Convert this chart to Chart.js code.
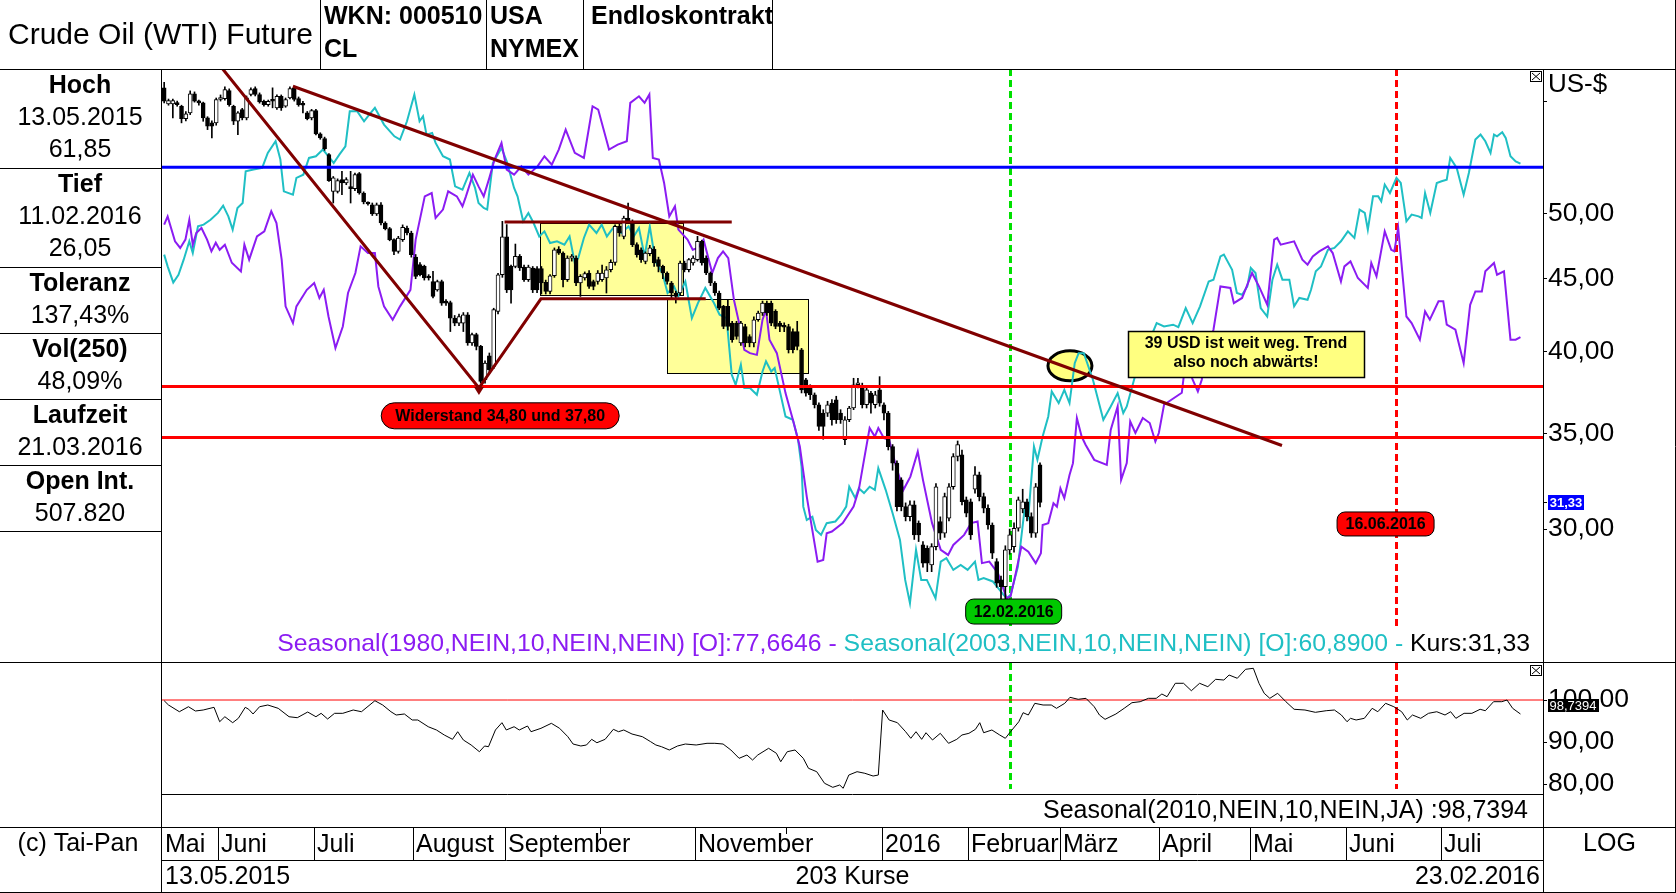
<!DOCTYPE html>
<html lang="de">
<head>
<meta charset="utf-8">
<title>Crude Oil (WTI) Future</title>
<script src="https://cdn.jsdelivr.net/npm/chart.js@4.4.1/dist/chart.umd.min.js"></script>
<style>
  html, body { margin: 0; padding: 0; background: #fff; }
  #wrap { width: 1676px; height: 893px; }
</style>
</head>
<body>
<div id="wrap"><canvas id="chart" width="1676" height="893"></canvas></div>
<script>
// Kerzen: Index 0 = 13.05.2015 ... Index 202 = 23.02.2016 (203 Kurse)
const candleOpen = [
  61.30, 59.73, 59.73, 59.83, 59.50, 58.32, 58.86, 60.71, 59.98, 59.83,
  58.39, 57.92, 57.92, 60.15, 60.24, 61.03, 59.50, 58.07, 59.18, 58.39,
  60.64, 61.23, 60.64, 59.98, 59.66, 60.05, 59.35, 60.47, 59.50, 60.31,
  61.30, 60.24, 59.66, 58.86, 58.39, 59.08, 56.89, 56.46, 55.02, 51.84,
  51.84, 52.83, 52.55, 52.13, 52.07, 53.35, 51.70, 50.87, 50.73, 49.98,
  50.73, 49.25, 48.80, 47.94, 47.04, 47.94, 48.85, 48.46, 46.60, 46.04,
  45.91, 45.17, 44.80, 44.20, 44.80, 43.38, 43.30, 42.22, 41.88, 41.88,
  42.45, 40.55, 41.10, 40.33, 38.21, 39.72, 39.04, 42.68, 45.29, 48.15,
  45.91, 45.91, 46.66, 45.86, 44.93, 45.79, 45.74, 45.74, 44.73, 44.08,
  45.22, 47.22, 46.91, 44.93, 46.53, 46.53, 44.69, 45.05, 45.42, 44.80,
  44.80, 44.93, 45.05, 45.66, 46.21, 48.98, 48.19, 49.65, 49.38, 47.55,
  47.16, 46.28, 46.86, 47.22, 46.41, 45.91, 45.42, 44.69, 43.97, 43.97,
  46.16, 45.66, 46.16, 46.41, 47.81, 46.53, 45.42, 44.69, 43.97, 43.03,
  43.03, 41.88, 41.88, 40.55, 41.65, 40.98, 40.55, 42.11, 42.57, 43.26,
  43.26, 42.68, 41.88, 41.65, 41.65, 41.31, 41.31, 40.11, 38.21, 37.79,
  37.29, 36.69, 36.20, 36.20, 36.79, 36.99, 36.20, 34.67, 35.81, 36.50,
  37.90, 37.79, 36.69, 37.39, 36.69, 37.59, 36.69, 36.20, 34.29, 33.38,
  32.49, 31.11, 30.61, 31.20, 30.29, 29.24, 29.08, 28.31, 29.16, 30.37,
  29.80, 30.53, 32.13, 33.74, 33.83, 31.45, 31.36, 32.00, 32.75, 31.62,
  31.03, 30.20, 28.46, 27.63, 27.33, 29.01, 29.16, 30.04, 31.00, 31.36,
  30.61, 29.80, 33.29
];
const candleHigh = [
  61.85, 60.20, 60.20, 60.00, 59.60, 59.00, 61.00, 60.90, 60.10, 59.90,
  58.50, 58.10, 60.30, 60.60, 61.40, 61.20, 59.60, 59.00, 59.30, 60.50,
  61.30, 61.40, 60.80, 60.10, 60.10, 61.30, 60.60, 60.60, 60.30, 61.40,
  61.46, 60.40, 59.98, 59.00, 59.20, 59.20, 57.00, 56.60, 55.10, 53.10,
  52.90, 53.55, 53.00, 53.55, 53.40, 53.45, 51.80, 50.96, 50.87, 50.87,
  50.90, 49.35, 48.90, 48.00, 48.20, 49.10, 49.00, 48.60, 46.80, 46.20,
  46.00, 45.30, 45.54, 44.90, 44.90, 43.50, 43.40, 42.40, 42.50, 42.60,
  42.60, 41.20, 41.20, 40.40, 39.40, 39.90, 42.90, 45.40, 49.38, 49.12,
  46.00, 47.60, 46.80, 46.00, 46.00, 45.90, 45.90, 45.90, 44.90, 45.30,
  47.30, 47.40, 47.00, 46.70, 46.80, 46.70, 45.30, 45.50, 45.60, 44.90,
  45.60, 46.00, 45.90, 46.40, 49.10, 49.20, 49.80, 50.87, 49.50, 47.70,
  47.30, 47.00, 47.50, 47.40, 46.60, 46.00, 45.50, 44.80, 44.10, 46.30,
  46.30, 46.50, 46.70, 48.20, 47.90, 46.70, 45.50, 44.80, 44.10, 43.10,
  43.50, 42.00, 42.00, 42.00, 41.80, 41.10, 42.30, 42.70, 43.40, 43.40,
  43.40, 42.80, 42.00, 41.90, 41.80, 41.50, 42.00, 40.20, 38.30, 37.90,
  37.40, 36.80, 36.40, 36.90, 37.00, 37.20, 36.40, 36.00, 36.60, 38.30,
  38.30, 38.00, 37.80, 37.50, 37.50, 38.40, 36.80, 36.30, 34.40, 33.50,
  32.60, 31.30, 31.40, 31.40, 30.40, 29.40, 29.20, 29.30, 32.30, 30.60,
  31.80, 32.30, 33.90, 34.60, 34.10, 31.60, 31.50, 33.20, 32.90, 31.80,
  31.20, 30.30, 28.60, 27.80, 29.20, 30.00, 30.30, 31.60, 32.00, 31.50,
  30.80, 32.30, 33.40
];
const candleLow = [
  59.83, 59.60, 58.39, 59.50, 57.92, 58.10, 58.70, 59.90, 59.60, 58.07,
  57.29, 56.53, 57.70, 60.00, 60.10, 59.50, 57.76, 56.83, 58.20, 58.20,
  60.50, 60.50, 59.80, 59.50, 59.50, 59.35, 59.20, 59.10, 59.40, 60.20,
  60.00, 59.50, 58.86, 58.20, 58.20, 56.80, 56.40, 55.40, 52.69, 50.87,
  51.70, 51.56, 52.40, 50.87, 51.90, 51.60, 50.80, 50.70, 49.85, 49.85,
  49.10, 48.70, 47.85, 46.79, 46.90, 47.80, 48.30, 46.60, 45.00, 45.20,
  44.90, 44.90, 43.62, 44.10, 43.10, 43.10, 41.31, 41.70, 41.70, 41.31,
  40.40, 40.40, 40.10, 38.00, 38.00, 38.60, 38.90, 42.50, 45.10, 44.00,
  43.26, 45.80, 45.60, 44.80, 44.80, 44.00, 44.00, 43.90, 43.90, 43.90,
  45.10, 46.80, 44.40, 44.80, 46.30, 44.50, 43.73, 44.90, 44.30, 44.20,
  44.60, 44.80, 43.97, 45.50, 46.00, 48.20, 48.00, 49.20, 47.40, 46.60,
  46.20, 46.10, 46.70, 45.90, 45.50, 45.00, 44.60, 43.60, 43.26, 43.80,
  45.50, 45.50, 46.00, 46.30, 46.00, 45.30, 44.50, 43.80, 42.80, 41.50,
  41.40, 40.60, 40.80, 40.40, 40.30, 40.30, 40.30, 42.00, 42.40, 42.40,
  41.70, 41.50, 41.30, 41.30, 39.90, 39.90, 40.10, 37.40, 37.20, 37.00,
  36.50, 35.20, 34.70, 36.00, 35.50, 35.60, 35.60, 34.40, 35.70, 36.40,
  37.70, 36.50, 36.50, 36.20, 36.50, 36.60, 35.80, 34.10, 33.00, 30.90,
  30.90, 30.40, 30.40, 29.50, 29.40, 28.20, 28.00, 28.00, 29.00, 29.50,
  29.60, 30.40, 32.00, 33.50, 31.20, 30.60, 29.50, 31.80, 31.40, 30.80,
  30.00, 28.60, 27.30, 26.80, 26.05, 28.80, 28.90, 29.90, 30.80, 30.40,
  29.60, 29.60, 31.10
];
const candleClose = [
  59.98, 60.05, 60.05, 59.66, 58.32, 58.77, 60.71, 59.98, 59.83, 58.39,
  57.60, 57.60, 60.15, 60.24, 61.13, 59.66, 58.07, 58.86, 58.39, 60.31,
  61.13, 60.64, 59.92, 59.66, 59.98, 59.98, 60.47, 59.35, 60.15, 61.23,
  60.15, 59.66, 59.60, 58.32, 59.08, 56.89, 56.53, 55.56, 52.75, 52.98,
  52.75, 52.55, 52.83, 52.07, 53.26, 51.70, 50.96, 50.79, 49.98, 50.73,
  49.25, 48.80, 47.94, 47.04, 48.07, 48.90, 48.46, 46.79, 45.17, 45.29,
  45.05, 45.05, 43.73, 44.80, 43.26, 43.26, 42.22, 41.88, 42.33, 42.45,
  40.55, 41.10, 40.33, 38.10, 39.25, 38.83, 42.80, 45.29, 48.15, 44.20,
  44.20, 46.66, 45.79, 44.93, 45.86, 44.20, 44.20, 44.69, 44.08, 45.22,
  47.16, 46.91, 44.93, 46.53, 46.66, 44.69, 45.17, 45.37, 44.44, 44.44,
  45.42, 45.42, 45.66, 46.21, 48.98, 48.46, 49.65, 49.38, 47.55, 46.79,
  46.41, 46.91, 47.30, 46.16, 45.91, 45.42, 44.80, 43.97, 43.73, 46.16,
  45.66, 46.41, 46.53, 47.81, 46.16, 45.42, 44.69, 43.97, 42.91, 41.65,
  41.65, 40.77, 40.98, 41.88, 40.55, 40.55, 42.11, 42.57, 43.26, 42.57,
  41.88, 41.65, 41.65, 41.60, 40.11, 40.11, 40.33, 37.59, 37.39, 37.29,
  36.69, 35.42, 35.42, 36.69, 35.81, 35.81, 35.81, 35.81, 36.50, 37.90,
  38.00, 36.69, 37.59, 36.79, 37.29, 36.79, 36.20, 34.29, 33.38, 31.11,
  31.11, 30.61, 31.20, 29.72, 29.72, 28.39, 28.39, 29.16, 32.13, 29.80,
  31.62, 32.13, 33.74, 34.40, 31.36, 30.78, 29.72, 32.75, 31.62, 31.03,
  30.20, 28.85, 27.48, 27.33, 29.01, 29.72, 30.04, 31.45, 31.36, 30.61,
  29.80, 32.13, 31.33
];

// Saisonale Verlaeufe [Index, Wert]
const season1980 = [[0,49.12],[0.8,49.78],[2.5,47.81],[3.7,47.30],[4.9,47.94],[5.8,49.51],[6.6,47.55],[7.4,48.46],[8.6,48.85],[9.9,47.94],[10.9,47.04],[11.9,47.70],[12.8,47.16],[14.0,47.55],[15.6,46.18],[17.7,45.54],[18.5,47.55],[19.6,46.41],[21.4,48.19],[23.1,48.59],[24.7,50.19],[25.9,49.25],[27.1,46.41],[28.0,43.03],[29.7,41.88],[30.5,43.03],[32.9,44.20],[34.6,44.69],[35.8,43.62],[36.8,44.20],[37.9,42.33],[39.5,40.22],[41.2,41.65],[42.4,43.97],[44.1,45.42],[45.3,47.42],[47.0,46.91],[48.6,46.91],[49.4,44.44],[50.7,43.03],[52.7,42.11],[54.4,43.03],[56.8,44.20],[58.0,47.94],[60.1,51.42],[61.7,51.70],[62.6,49.65],[64.3,50.33],[65.5,51.84],[67.5,51.42],[68.8,50.60],[69.6,51.42],[71.2,53.26],[72.5,52.26],[73.7,51.42],[75.0,52.98],[76.2,54.58],[77.8,56.07],[79.0,53.70],[80.7,53.26],[82.4,53.98],[84.0,53.26],[86.1,53.98],[87.7,54.87],[89.4,54.13],[91.0,55.47],[92.6,57.29],[94.7,55.17],[96.8,54.72],[98.8,59.50],[100.1,59.18],[102.6,55.47],[104.6,55.92],[106.7,56.22],[107.5,59.83],[109.5,60.47],[110.8,59.83],[111.9,60.64],[112.7,54.72],[114.1,54.58],[115.3,52.55],[116.5,49.78],[117.8,50.60],[118.6,48.72],[120.7,47.94],[121.9,47.16],[123.1,47.30],[124.4,47.94],[125.6,46.41],[126.4,45.42],[127.7,46.53],[128.9,47.04],[130.1,46.53],[131.4,43.49],[132.6,41.88],[133.8,40.11],[135.1,39.89],[136.7,39.78],[138.0,42.11],[138.8,42.80],[139.6,40.77],[141.3,39.89],[143.3,37.39],[145.0,35.81],[146.6,34.29],[148.2,31.62],[150.7,28.46],[152.0,28.54],[152.8,29.80],[154.0,29.88],[156.5,30.29],[159.0,31.11],[160.2,31.97],[161.4,33.56],[162.7,35.33],[163.9,34.85],[164.7,35.33],[166.0,34.76],[167.2,34.67],[168.8,33.20],[170.5,31.97],[172.1,32.66],[173.8,34.01],[175.0,32.49],[177.1,30.29],[179.1,29.01],[180.8,28.77],[182.0,29.24],[184.5,29.72],[186.1,30.29],[187.6,30.37],[188.6,28.39],[190.3,28.46],[192.3,27.93],[194.3,26.82],[195.2,26.90],[196.4,27.93],[197.7,29.16],[199.3,28.92],[201.0,28.39],[202.2,28.85],[202.6,30.20],[203.9,30.29],[205.1,31.28],[205.9,31.11],[206.7,32.05],[207.6,31.54],[208.8,32.75],[209.6,33.38],[210.5,35.91],[211.6,34.85],[212.5,34.39],[214.5,33.56],[217.4,33.29],[218.3,35.23],[219.9,36.59],[220.7,32.49],[222.0,33.38],[222.8,35.71],[224.0,35.05],[225.7,35.91],[227.3,35.62],[228.6,34.57],[229.4,35.05],[230.6,36.69],[232.3,36.99],[234.7,37.41],[235.6,39.47],[237.2,38.21],[238.4,37.49],[239.3,38.21],[240.1,39.89],[242.0,41.43],[243.6,44.44],[245.9,44.33],[246.7,43.26],[248.6,43.62],[250.9,45.42],[252.5,44.44],[254.4,43.14],[256.0,47.94],[256.7,48.07],[257.5,47.55],[260.6,47.81],[262.5,46.41],[263.7,46.04],[264.9,46.66],[266.4,47.04],[268.4,47.42],[269.5,46.91],[271.4,44.80],[272.2,45.91],[273.6,46.28],[275.3,45.05],[277.6,44.33],[278.4,46.16],[279.6,45.17],[281.5,48.59],[283.0,47.16],[283.7,47.04],[284.6,48.85],[286.5,42.33],[287.7,41.88],[289.6,40.77],[290.8,42.68],[291.9,42.11],[293.9,43.38],[295.0,43.38],[295.8,41.77],[297.8,41.43],[299.7,39.25],[301.2,43.14],[302.4,44.08],[303.9,44.08],[304.7,45.54],[306.7,46.16],[307.4,45.29],[309.0,45.54],[310.5,40.77],[311.7,40.77],[312.8,40.94]];

const season2003 = [[0,46.79],[0.8,45.91],[2.1,44.73],[3.3,45.29],[4.5,46.41],[5.8,47.81],[6.6,46.91],[7.8,48.98],[9.1,49.12],[10.7,49.51],[12.4,50.06],[13.6,50.65],[14.8,49.78],[15.8,48.72],[16.9,50.46],[18.1,50.87],[18.8,53.55],[20.6,53.70],[22.6,53.84],[23.9,55.17],[25.7,56.22],[26.8,54.58],[27.6,51.84],[29.7,51.56],[30.5,52.98],[32.1,53.26],[33.4,54.72],[35.0,54.87],[36.6,55.47],[37.9,54.87],[39.1,54.28],[40.4,55.02],[41.8,55.76],[42.8,59.02],[44.5,59.02],[46.1,58.07],[47.3,58.70],[48.6,59.35],[50.7,57.76],[53.1,56.67],[54.4,56.37],[56.0,58.07],[57.7,60.64],[58.9,58.07],[59.7,58.54],[60.5,56.83],[61.8,56.98],[62.6,56.07],[64.3,54.87],[65.9,54.58],[67.1,52.26],[68.8,51.98],[70.4,53.41],[71.7,52.13],[72.5,50.87],[73.7,50.46],[74.5,50.33],[75.8,54.28],[77.8,55.62],[79.0,54.42],[80.7,52.13],[81.5,51.42],[82.8,49.38],[84.0,50.06],[85.2,49.25],[86.5,48.19],[87.7,48.59],[89.0,47.68],[90.6,47.81],[92.3,47.55],[93.5,48.19],[94.7,46.16],[95.5,46.53],[96.8,48.07],[98.0,49.12],[99.7,48.46],[100.9,49.12],[102.1,48.19],[103.8,48.98],[105.4,48.46],[107.1,48.98],[108.3,48.19],[109.5,48.85],[110.8,46.66],[112.0,48.98],[113.3,46.28],[114.9,45.42],[116.1,43.97],[117.6,44.44],[118.6,43.73],[120.2,44.80],[121.7,42.22],[123.1,43.26],[124.8,44.33],[126.8,43.26],[128.1,42.45],[129.7,42.22],[130.9,38.52],[131.8,37.90],[133.0,39.15],[133.8,37.70],[135.1,37.70],[136.7,37.29],[138.0,38.72],[138.8,39.36],[140.0,38.72],[140.8,38.94],[142.1,37.39],[143.3,36.00],[145.0,35.81],[146.2,34.67],[147.0,33.20],[147.4,31.11],[148.2,30.45],[149.5,30.61],[150.3,29.96],[151.5,29.72],[152.8,30.29],[154.8,30.37],[156.1,30.70],[157.3,31.11],[158.0,32.13],[159.4,31.54],[160.2,32.05],[161.4,31.80],[162.7,32.13],[163.9,31.97],[164.7,33.11],[166.4,31.97],[168.0,30.78],[169.7,29.48],[170.9,27.63],[172.0,26.61],[173.4,29.01],[174.6,27.63],[175.9,27.63],[177.9,26.82],[179.1,28.46],[180.4,28.62],[182.0,28.08],[183.7,28.31],[185.3,28.08],[187.0,28.46],[187.8,27.63],[189.0,27.71],[191.1,27.56],[193.6,26.97],[194.3,26.82],[195.2,26.97],[196.9,28.23],[198.5,31.11],[199.3,30.61],[200.6,34.29],[201.4,33.56],[202.6,34.85],[203.9,36.00],[204.7,37.49],[206.3,36.79],[207.6,37.59],[208.8,36.79],[210.0,39.25],[210.9,39.89],[212.1,39.89],[214.2,38.21],[216.6,35.81],[218.3,36.59],[219.9,37.39],[221.2,36.20],[222.0,36.59],[224.0,38.52],[225.7,40.22],[227.3,40.77],[228.9,41.88],[230.6,41.65],[232.7,41.77],[233.9,41.60],[235.6,42.91],[237.2,41.88],[238.9,43.03],[240.9,44.80],[242.0,44.93],[243.6,46.66],[244.4,46.79],[246.3,45.66],[247.4,43.97],[248.6,43.85],[249.8,44.44],[250.6,45.79],[251.7,45.42],[252.9,42.91],[254.4,42.33],[255.6,44.93],[256.7,46.04],[257.9,44.93],[259.5,44.93],[260.6,43.03],[261.8,43.62],[263.7,43.49],[264.5,44.20],[265.6,45.54],[266.8,45.91],[268.4,47.16],[269.9,47.30],[271.4,47.81],[273.0,48.59],[274.5,48.07],[275.7,50.33],[276.9,50.06],[277.6,48.72],[278.8,51.42],[280.0,51.42],[280.7,51.01],[281.5,52.41],[282.7,51.70],[284.2,52.98],[285.2,52.55],[286.5,49.38],[287.7,49.92],[289.3,49.78],[290.0,49.65],[290.8,51.70],[292.0,50.06],[293.5,52.55],[294.6,52.69],[295.8,52.83],[296.6,54.72],[298.1,53.84],[299.7,51.56],[300.9,53.41],[302.4,56.37],[303.6,56.83],[304.7,56.22],[305.9,55.17],[306.7,56.83],[307.4,56.67],[308.6,57.04],[309.4,56.53],[310.5,54.87],[311.7,54.42],[312.8,54.22]];

// Unteres Fenster: Seasonal(2010,NEIN,10,NEIN,JA)
const season2010 = [[0,99.83],[1.0,98.81],[3.5,97.21],[5.6,98.40],[7.2,97.38],[9.0,97.62],[11.5,98.26],[12.8,94.83],[14.0,96.02],[15.8,94.60],[17.1,95.64],[18.7,98.26],[19.5,97.79],[20.5,96.67],[22.0,98.40],[23.9,98.81],[26.3,98.02],[28.8,96.02],[30.7,95.79],[33.1,97.14],[35.0,96.02],[36.2,96.83],[37.7,95.48],[39.3,96.83],[41.2,96.83],[43.6,97.62],[45.5,97.21],[48.6,99.83],[50.4,98.81],[52.3,97.21],[53.5,96.43],[55.4,96.67],[57.2,95.24],[58.5,95.24],[60.9,93.64],[62.8,92.86],[64.6,91.67],[66.5,90.64],[67.7,92.45],[69.0,90.48],[70.8,89.29],[72.7,87.69],[73.9,89.05],[74.8,88.88],[76.4,92.86],[77.9,94.60],[78.9,92.86],[80.7,93.64],[81.9,92.86],[83.8,93.81],[84.6,92.45],[86.9,93.26],[89.3,94.45],[91.2,93.26],[93.1,91.26],[94.3,89.52],[96.1,89.05],[97.4,89.29],[98.6,90.64],[99.8,89.83],[101.7,90.64],[103.6,93.02],[104.8,92.45],[106.0,92.86],[107.9,91.90],[110.3,91.26],[112.2,90.07],[113.4,89.29],[114.7,88.88],[116.5,88.10],[118.4,89.05],[120.2,89.52],[122.7,89.29],[125.2,89.69],[127.0,89.69],[128.9,89.52],[130.7,88.10],[132.6,86.12],[134.4,86.90],[135.7,85.71],[136.9,86.90],[139.4,88.50],[141.2,87.31],[142.2,85.31],[143.7,87.69],[145.5,88.10],[147.4,86.12],[148.6,83.74],[150.5,82.93],[152.3,80.17],[154.2,79.21],[155.8,79.76],[156.6,78.98],[157.9,82.14],[159.8,82.93],[161.6,82.55],[163.5,81.90],[164.7,82.14],[165.7,97.62],[167.2,95.24],[169.1,94.60],[171.0,92.45],[172.2,90.88],[173.4,92.45],[174.7,90.64],[175.7,92.21],[177.2,90.48],[179.0,92.07],[180.9,89.69],[182.8,90.64],[184.0,91.67],[185.6,92.07],[187.1,93.02],[188.1,94.60],[189.0,92.21],[190.9,92.86],[192.7,91.67],[194.0,90.88],[195.2,92.45],[197.1,94.83],[198.1,96.98],[199.3,96.43],[200.8,99.21],[202.7,98.81],[204.6,98.81],[205.8,98.02],[207.7,99.21],[208.9,100.64],[210.8,100.17],[212.6,100.40],[214.5,98.40],[215.7,96.43],[217.0,95.40],[219.5,96.67],[221.4,98.02],[223.2,99.36],[225.1,99.60],[227.0,100.40],[228.8,100.40],[230.1,101.43],[231.3,100.79],[233.2,103.98],[235.1,103.98],[236.9,102.21],[238.8,103.98],[240.7,103.17],[242.5,104.93],[244.4,104.76],[245.6,105.95],[247.5,105.17],[249.4,107.31],[251.2,107.55],[252.5,103.98],[253.7,101.60],[255.0,100.40],[256.8,101.60],[258.7,99.60],[260.6,97.79],[263.1,97.62],[265.5,97.07],[268.0,97.45],[269.9,97.62],[271.5,96.43],[272.8,94.83],[273.6,95.64],[274.9,95.24],[276.8,95.64],[278.6,98.02],[279.9,97.21],[281.7,99.21],[283.6,98.40],[285.4,97.21],[286.7,95.24],[287.9,96.43],[289.8,95.64],[291.6,96.83],[293.5,97.21],[295.4,96.43],[296.7,97.21],[297.9,95.64],[299.8,96.83],[301.6,96.83],[303.5,97.79],[304.7,97.45],[306.6,99.60],[308.5,99.60],[309.7,100.00],[311.0,98.02],[312.8,96.67]];

// Linien und Zonen
const levelBlue = 53.9;
const levelsRed = [37.8, 34.8];
const level2010 = 100;
const trendSupport = [[13.5, 63.2], [72.6, 37.7], [86.9, 43.56], [124.9, 43.56]];
const trendChannelTop = [[78.5, 49.33], [130.9, 49.33]];
const trendDown = [[29.7, 61.46], [257.8, 34.35]];
const zones = [[86.7, 119.6, 43.83, 49.25], [115.9, 148.5, 38.62, 43.55]];
const circleAt = [208.9, 39.08];
const markerLow = 195;     // 12.02.2016
const markerTarget = 284;  // 16.06.2016

// Achsen
const priceTicks = [30, 35, 40, 45, 50, 60];
const lowerTicks = [80, 90, 100];
const monthStarts = [0, 13, 35, 58, 79, 101, 123, 144, 166, 186, 207, 230, 251, 273, 295];
const monthNames = ['Mai', 'Juni', 'Juli', 'August', 'September', '', 'November', '', '2016', 'Februar', 'März', 'April', 'Mai', 'Juni', 'Juli'];

const infoLabels = ['Hoch', 'Tief', 'Toleranz', 'Vol(250)', 'Laufzeit', 'Open Int.'];
const infoValues = [['13.05.2015', '61,85'], ['11.02.2016', '26,05'], ['137,43%'], ['48,09%'], ['21.03.2016'], ['507.820']];
const infoRows = [69, 168, 267, 333, 399, 465, 531];

const PURPLE = '#8B1CF2';
const CYAN = '#1FBFC4';
const MAROON = '#800000';
const FAM = '"Liberation Sans", Arial, Helvetica, sans-serif';

const fmt = v => v.toFixed(2).replace('.', ',');
const toXY = arr => arr.map(p => ({ x: p[0], y: p[1] }));

function txt(ctx, s, x, y, size, bold, align, color) {
  ctx.font = (bold ? 'bold ' : '') + size + 'px ' + FAM;
  ctx.textAlign = align || 'left';
  ctx.textBaseline = 'middle';
  ctx.fillStyle = color || '#000';
  ctx.fillText(s, x, y);
}
function hl(ctx, x0, x1, y) { ctx.beginPath(); ctx.moveTo(x0, y + 0.5); ctx.lineTo(x1, y + 0.5); ctx.stroke(); }
function vl(ctx, x, y0, y1) { ctx.beginPath(); ctx.moveTo(x + 0.5, y0); ctx.lineTo(x + 0.5, y1); ctx.stroke(); }
function tag(ctx, cx, cy, w, h, r, fill, label) {
  ctx.beginPath();
  ctx.roundRect(cx - w / 2, cy - h / 2, w, h, r);
  ctx.fillStyle = fill;
  ctx.fill();
  ctx.lineWidth = 1;
  ctx.strokeStyle = '#000';
  ctx.stroke();
  txt(ctx, label, cx, cy + 1, 16, true, 'center');
}
function closeBox(ctx, x, y) {
  ctx.lineWidth = 1;
  ctx.strokeStyle = '#000';
  ctx.strokeRect(x + 0.5, y + 0.5, 11, 10);
  ctx.beginPath();
  ctx.moveTo(x + 2, y + 2); ctx.lineTo(x + 10, y + 9);
  ctx.moveTo(x + 10, y + 2); ctx.lineTo(x + 2, y + 9);
  ctx.stroke();
}

const taipanPlugin = {
  id: 'taipan',
  beforeDatasetsDraw(chart) {
    const { ctx, scales: { x, y, y2 } } = chart;
    ctx.save();
    // gelbe Zonen
    zones.forEach(z => {
      const l = Math.round(x.getPixelForValue(z[0])), r = Math.round(x.getPixelForValue(z[1]));
      const t = Math.round(y.getPixelForValue(z[3])), b = Math.round(y.getPixelForValue(z[2]));
      ctx.fillStyle = '#FFFF99';
      ctx.fillRect(l, t, r - l, b - t);
      ctx.lineWidth = 1;
      ctx.strokeStyle = '#000';
      ctx.strokeRect(l + 0.5, t + 0.5, r - l, b - t);
    });
    // Kreis
    ctx.beginPath();
    ctx.ellipse(x.getPixelForValue(circleAt[0]), y.getPixelForValue(circleAt[1]), 22, 15, 0, 0, Math.PI * 2);
    ctx.fillStyle = '#FFFF80';
    ctx.fill();
    ctx.lineWidth = 3;
    ctx.strokeStyle = '#000';
    ctx.stroke();
    // senkrechte Markierungen
    ctx.lineWidth = 3;
    ctx.setLineDash([7, 4]);
    [[markerLow, '#00E000'], [markerTarget, '#FF0000']].forEach(([m, c]) => {
      const px = Math.round(x.getPixelForValue(m)) + 0.5;
      ctx.strokeStyle = c;
      ctx.beginPath();
      ctx.moveTo(px, y.top); ctx.lineTo(px, y.bottom - 35);
      ctx.moveTo(px, y2.top + 1); ctx.lineTo(px, y2.bottom - 5);
      ctx.stroke();
    });
    ctx.restore();
  },
  afterDraw(chart) {
    const { ctx, scales: { x, y, y2 } } = chart;
    const W = chart.width, H = chart.height;
    const L = x.left, R = x.right;
    ctx.save();

    // Rahmen
    ctx.strokeStyle = '#000';
    ctx.lineWidth = 1;
    hl(ctx, 0, W, 69);
    hl(ctx, 0, W, y.bottom);
    hl(ctx, L, R, y2.bottom);
    hl(ctx, 0, W, 827);
    hl(ctx, L - 1, R, 860);
    hl(ctx, 0, W, H - 1);
    vl(ctx, L - 1, 69, H);
    vl(ctx, R, 69, H);
    vl(ctx, W - 1, 0, H);
    [320, 486, 583, 772].forEach(v => vl(ctx, v, 0, 69));
    infoRows.slice(1).forEach(r => hl(ctx, 0, L - 1, r));

    // Kopfzeile
    txt(ctx, 'Crude Oil (WTI) Future', 8, 36, 30, false);
    txt(ctx, 'WKN: 000510', 324, 17, 25, true);
    txt(ctx, 'CL', 324, 50, 25, true);
    txt(ctx, 'USA', 490, 17, 25, true);
    txt(ctx, 'NYMEX', 490, 50, 25, true);
    txt(ctx, 'Endloskontrakt', 591, 17, 25, true);

    // Infofeld links
    infoLabels.forEach((lab, k) => {
      const top = infoRows[k];
      txt(ctx, lab, 80, top + 17, 25, true, 'center');
      infoValues[k].forEach((v, j) => txt(ctx, v, 80, top + 49 + j * 32, 25, false, 'center'));
    });
    txt(ctx, '(c) Tai-Pan', 78, 844, 25, false, 'center');
    txt(ctx, 'LOG', (R + W) / 2, 844, 25, false, 'center');

    // Monatsleiste
    ctx.strokeStyle = '#000';
    ctx.lineWidth = 1;
    monthStarts.forEach((m, k) => {
      const sx = Math.round(x.getPixelForValue(m - 0.5));
      if (k > 0) {
        if (monthNames[k]) vl(ctx, sx, 827, 860);
        else vl(ctx, sx, 827, 834);
      }
      if (monthNames[k]) txt(ctx, monthNames[k], sx + 3, 845, 25, false);
    });
    txt(ctx, '13.05.2015', L + 3, 877, 25, false);
    txt(ctx, '203 Kurse', (L + R) / 2, 877, 25, false, 'center');
    txt(ctx, '23.02.2016', R - 3, 877, 25, false, 'right');

    // Legende Hauptfenster
    const parts = [
      ['Seasonal(1980,NEIN,10,NEIN,NEIN) [O]:77,6646 - ', PURPLE],
      ['Seasonal(2003,NEIN,10,NEIN,NEIN) [O]:60,8900 - ', CYAN],
      ['Kurs:31,33', '#000']
    ];
    const lsz = 24.8;
    ctx.font = lsz + 'px ' + FAM;
    let ex = R - 13;
    for (let k = parts.length - 1; k >= 0; k--) {
      const w = ctx.measureText(parts[k][0]).width;
      txt(ctx, parts[k][0], ex - w, y.bottom - 18, lsz, false, 'left', parts[k][1]);
      ctx.font = lsz + 'px ' + FAM;
      ex -= w;
    }
    txt(ctx, 'Seasonal(2010,NEIN,10,NEIN,JA) :98,7394', R - 15, y2.bottom + 17, 25, false, 'right');

    // Achsbeschriftung
    txt(ctx, 'US-$', R + 5, 85, 26, false);
    closeBox(ctx, R - 13, 71);
    closeBox(ctx, R - 13, y2.top + 3);

    // Kurs-Markierung rechts
    const ky = Math.round(y.getPixelForValue(candleClose[candleClose.length - 1]));
    ctx.strokeStyle = '#000';
    ctx.lineWidth = 1;
    ctx.beginPath(); ctx.moveTo(R, ky + 0.5); ctx.lineTo(R + 4, ky + 0.5); ctx.stroke();
    ctx.fillStyle = '#0000FF';
    ctx.fillRect(R + 5, ky - 7, 36, 15);
    txt(ctx, '31,33', R + 23, ky + 1, 13, true, 'center', '#fff');
    const iy = Math.round(y2.getPixelForValue(season2010[season2010.length - 1][1] + 2.1));
    ctx.fillStyle = '#000';
    ctx.fillRect(R + 5, iy - 6, 51, 13);
    txt(ctx, '98,7394', R + 30, iy + 1, 13, false, 'center', '#fff');

    // Schilder
    tag(ctx, x.getPixelForValue(77.5), y.getPixelForValue(36.04), 238, 26, 13, '#FF0000', 'Widerstand 34,80 und 37,80');
    tag(ctx, x.getPixelForValue(markerLow) + 4, y.getPixelForValue(26.25), 96, 25, 8, '#00C800', '12.02.2016');
    tag(ctx, x.getPixelForValue(markerTarget) - 10, y.getPixelForValue(30.25), 97, 24, 8, '#FF0000', '16.06.2016');

    // Kommentar
    const bl = Math.round(x.getPixelForValue(222.3)), br = Math.round(x.getPixelForValue(276.7));
    const bt = Math.round(y.getPixelForValue(41.38)), bb = Math.round(y.getPixelForValue(38.37));
    ctx.fillStyle = '#FFFF80';
    ctx.fillRect(bl, bt, br - bl, bb - bt);
    ctx.strokeStyle = '#000';
    ctx.lineWidth = 1.5;
    ctx.strokeRect(bl + 0.5, bt + 0.5, br - bl, bb - bt);
    txt(ctx, '39 USD ist weit weg. Trend', (bl + br) / 2, bt + 13, 16, true, 'center');
    txt(ctx, 'also noch abwärts!', (bl + br) / 2, bt + 32, 16, true, 'center');

    // Dreieck am Tief
    const vx = x.getPixelForValue(trendSupport[1][0]), vy = y.getPixelForValue(trendSupport[1][1]);
    ctx.fillStyle = MAROON;
    ctx.beginPath();
    ctx.moveTo(vx - 5, vy - 1); ctx.lineTo(vx + 5, vy - 1); ctx.lineTo(vx, vy + 7); ctx.closePath();
    ctx.fill();
    ctx.restore();
  }
};

const idx = candleOpen.map((_, i) => i);
const flatLine = (v, axis, color, width, order) => ({
  type: 'line', data: [{ x: -0.5, y: v }, { x: 318, y: v }], yAxisID: axis,
  borderColor: color, borderWidth: width, pointRadius: 0, order: order
});
const trendLine = (pts) => ({
  type: 'line', data: toXY(pts), yAxisID: 'y', borderColor: MAROON,
  borderWidth: 3, pointRadius: 0, tension: 0, order: 2
});

new Chart(document.getElementById('chart').getContext('2d'), {
  type: 'bar',
  data: {
    datasets: [
      { type: 'line', label: 'Seasonal 1980', data: toXY(season1980), yAxisID: 'y',
        borderColor: PURPLE, borderWidth: 2, pointRadius: 0, tension: 0, order: 10 },
      { type: 'line', label: 'Seasonal 2003', data: toXY(season2003), yAxisID: 'y',
        borderColor: CYAN, borderWidth: 2, pointRadius: 0, tension: 0, order: 10 },
      { label: 'Docht', data: idx.map(i => ({ x: i, y: [candleLow[i], candleHigh[i]] })), yAxisID: 'y',
        backgroundColor: '#000', barThickness: 1, grouped: false, order: 9 },
      { label: 'Kerze', data: idx.map(i => ({ x: i, y: [candleOpen[i], candleClose[i]] })), yAxisID: 'y',
        backgroundColor: idx.map(i => candleClose[i] >= candleOpen[i] ? '#fff' : '#000'),
        borderColor: '#000', borderWidth: 1, borderSkipped: false, barThickness: 4,
        minBarLength: 2, grouped: false, order: 8 },
      flatLine(level2010, 'y2', '#FF0000', 1, 7),
      { type: 'line', label: 'Seasonal 2010', data: toXY(season2010), yAxisID: 'y2',
        borderColor: '#000', borderWidth: 1, pointRadius: 0, tension: 0, order: 6 },
      flatLine(levelBlue, 'y', '#0000FF', 3, 4),
      flatLine(levelsRed[0], 'y', '#FF0000', 3, 4),
      flatLine(levelsRed[1], 'y', '#FF0000', 3, 4),
      trendLine(trendSupport),
      trendLine(trendChannelTop),
      trendLine(trendDown)
    ]
  },
  options: {
    responsive: false,
    animation: false,
    devicePixelRatio: 1,
    layout: { padding: { left: 162, top: 69, right: 0, bottom: 99 } },
    plugins: { legend: { display: false }, tooltip: { enabled: false } },
    events: [],
    scales: {
      x: { type: 'linear', min: -0.5, max: 318, offset: false, display: false },
      y: {
        type: 'logarithmic', position: 'right', stack: 'v', stackWeight: 593,
        min: 24.19, max: 63.2,
        afterBuildTicks: s => { s.ticks = priceTicks.map(v => ({ value: v })); },
        afterFit: s => { s.width = 133; },
        border: { display: false },
        grid: { drawOnChartArea: false, drawTicks: true, tickLength: 4, color: '#000' },
        ticks: { autoSkip: false, padding: 1, color: '#000', font: { family: FAM, size: 26.5 },
                 callback: v => v === 60 ? '' : fmt(v) }
      },
      y2: {
        type: 'linear', position: 'right', stack: 'v', stackWeight: 132,
        min: 77.62, max: 109.05,
        afterBuildTicks: s => { s.ticks = lowerTicks.map(v => ({ value: v })); },
        afterFit: s => { s.width = 133; },
        border: { display: false },
        grid: { drawOnChartArea: false, drawTicks: true, tickLength: 4, color: '#000' },
        ticks: { autoSkip: false, padding: 1, color: '#000', font: { family: FAM, size: 26.5 },
                 callback: v => fmt(v) }
      }
    }
  },
  plugins: [taipanPlugin]
});
</script>
</body>
</html>
